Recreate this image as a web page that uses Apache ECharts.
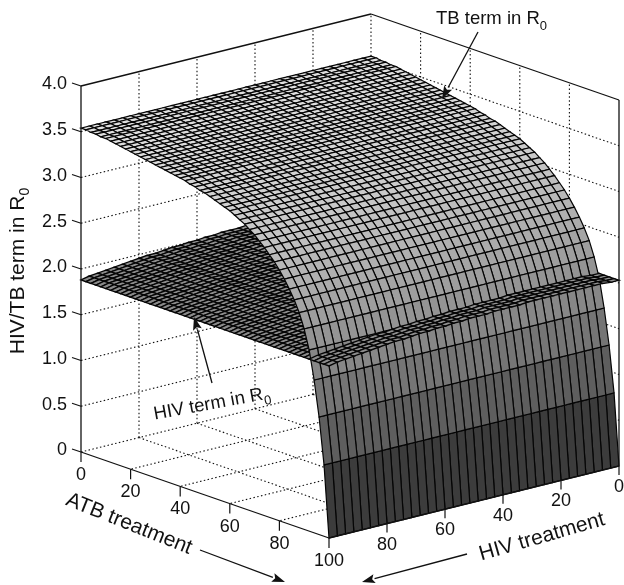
<!DOCTYPE html>
<html>
<head>
<meta charset="utf-8">
<style>html,body{margin:0;padding:0;background:#fff}#c{width:624px;height:585px}</style>
<script src="https://cdn.jsdelivr.net/npm/echarts@6/dist/echarts.min.js"></script>
</head>
<body>
<div id="c"></div>
<script>
// ATB treatment levels (%), one per TB-term value
const atbLevels = [0,2,4,6,8,10,12,14,16,18,20,22,24,26,28,30,32,34,36,38,40,42,44,46,48,50,52,54,56,58,60,62,64,66,68,70,72,74,76,78,80,82,84,86,88,90,92,94,96,98,100];
// TB term in R0, read along the ATB axis
const tbTerm = [3.54,3.54,3.53,3.53,3.52,3.52,3.51,3.50,3.49,3.48,3.47,3.46,3.45,3.44,3.43,3.42,3.41,3.40,3.39,3.38,3.37,3.36,3.34,3.33,3.31,3.30,3.28,3.26,3.24,3.22,3.20,3.17,3.14,3.11,3.07,3.03,2.98,2.93,2.87,2.81,2.74,2.66,2.57,2.47,2.35,2.19,1.98,1.67,1.285,0.78,0];
// HIV treatment levels (%), one per HIV-term value
const hivLevels = [0,2.86,5.71,8.57,11.43,14.29,17.14,20,22.86,25.71,28.57,31.43,34.29,37.14,40,42.86,45.71,48.57,51.43,54.29,57.14,60,62.86,65.71,68.57,71.43,74.29,77.14,80,82.86,85.71,88.57,91.43,94.29,97.14,100];
// HIV term in R0, read along the HIV axis
const hivTerm = [2.03,2.03,2.04,2.04,2.04,2.04,2.04,2.04,2.04,2.04,2.04,2.04,2.03,2.03,2.03,2.03,2.02,2.02,2.02,2.01,2.01,2.00,2.00,1.99,1.99,1.98,1.97,1.97,1.96,1.95,1.94,1.93,1.92,1.91,1.90,1.88];
// Tick labels
const treatmentTicks = [0,20,40,60,80,100];
const termTicks = [0,0.5,1,1.5,2,2.5,3,3.5,4];
const termTickLabels = ['0','0.5','1.0','1.5','2.0','2.5','3.0','3.5','4.0'];

// Oblique projection of the 3D box onto the hidden plane axes
function project(a, h, z) {
  return [371 + 2.48 * a - 2.9 * h, 380 + 0.86 * a + 0.72 * h - 91.5 * z];
}
function depth(a, h, z) { return 0.029 * a / 100 + 0.0248 * h / 100 + 0.0117 * z / 4; }
const FONT = '"Liberation Sans", Arial, Helvetica, sans-serif';
const INK = '#111';

// Surface cells: [atb index, hiv index, surface id], painter-sorted back to front
const cells = [];
function heightOf(surface, i, j) { return surface === 0 ? tbTerm[i] : hivTerm[j]; }
for (let s = 0; s < 2; s++) {
  for (let i = 0; i < atbLevels.length - 1; i++) {
    for (let j = 0; j < hivLevels.length - 1; j++) {
      const zAvg = (heightOf(s, i, j) + heightOf(s, i + 1, j) + heightOf(s, i, j + 1) + heightOf(s, i + 1, j + 1)) / 4;
      cells.push({ value: [i, j, s], d: depth((atbLevels[i] + atbLevels[i + 1]) / 2, (hivLevels[j] + hivLevels[j + 1]) / 2, zAvg) });
    }
  }
}
cells.sort((p, q) => p.d - q.d);

function renderCell(params, api) {
  const i = api.value(0), j = api.value(1), s = api.value(2);
  const corner = (ii, jj) => {
    return api.coord(project(atbLevels[ii], hivLevels[jj], heightOf(s, ii, jj)));
  };
  const z = (heightOf(s, i, j) + heightOf(s, i + 1, j) + heightOf(s, i, j + 1) + heightOf(s, i + 1, j + 1)) / 4;
  const g = Math.round(40 + 52 * z);
  return {
    type: 'polygon',
    shape: { points: [corner(i, j), corner(i + 1, j), corner(i + 1, j + 1), corner(i, j + 1)] },
    style: { fill: 'rgb(' + g + ',' + g + ',' + g + ')', stroke: '#050505', lineWidth: s === 1 ? 1.35 : 1.2 }
  };
}

// Frame pieces: [a1,h1,z1,a2,h2,z2]
const dotted = [];
termTicks.slice(1, -1).forEach(z => {
  dotted.push([0, 100, z, 0, 0, z], [0, 0, z, 100, 0, z]);
});
treatmentTicks.slice(1, -1).forEach(t => {
  dotted.push([0, t, 0, 0, t, 4], [t, 0, 0, t, 0, 4]);
  dotted.push([t, 0, 0, t, 100, 0], [0, t, 0, 100, t, 0]);
});
dotted.push([0, 100, 0, 0, 0, 0], [0, 0, 0, 100, 0, 0], [0, 0, 0, 0, 0, 4]);

const solid = [
  [0, 100, 4, 0, 0, 4], [0, 0, 4, 100, 0, 4],
  [0, 100, 0, 0, 100, 4], [100, 0, 0, 100, 0, 4],
  [0, 100, 0, 100, 100, 0], [100, 100, 0, 100, 0, 0]
];

function renderSegment(dash) {
  return function (params, api) {
    const p = api.coord(project(api.value(0), api.value(1), api.value(2)));
    const q = api.coord(project(api.value(3), api.value(4), api.value(5)));
    return {
      type: 'line',
      shape: { x1: p[0], y1: p[1], x2: q[0], y2: q[1] },
      style: { stroke: INK, lineWidth: dash ? 1.1 : 1.3, lineDash: dash ? [1.5, 2.4] : null, fill: null }
    };
  };
}

// Ticks and annotation text, on the plane axes
function txt(x, y, text, size, opt) {
  return Object.assign({ type: 'text', x, y, rotation: 0,
    style: { text, fontSize: size, fontFamily: FONT, fill: INK, align: 'center', verticalAlign: 'middle' } }, opt || {});
}
function rLabel(x, y, pre, size, rotation, align) {
  return {
    type: 'text', x, y, rotation,
    style: {
      text: '{a|' + pre + '}{s|0}', fontFamily: FONT, fill: INK, align: align || 'center', verticalAlign: 'middle',
      rich: {
        a: { fontSize: size, fontFamily: FONT, fill: INK, height: 26, lineHeight: 26, verticalAlign: 'middle' },
        s: { fontSize: Math.round(size * 0.68), fontFamily: FONT, fill: INK, height: 12, lineHeight: 12, verticalAlign: 'bottom' }
      }
    }
  };
}
function arrow(x1, y1, x2, y2, len, wid) {
  const ang = Math.atan2(y2 - y1, x2 - x1), cs = Math.cos(ang), sn = Math.sin(ang);
  const bx = x2 - cs * len, by = y2 - sn * len;
  return [
    { type: 'line', shape: { x1, y1, x2: bx, y2: by }, style: { stroke: INK, lineWidth: 1.3 } },
    { type: 'polygon', shape: { points: [[x2, y2], [bx - sn * wid, by + cs * wid], [bx + cs * 2.5, by + sn * 2.5], [bx + sn * wid, by - cs * wid]] }, style: { fill: INK } }
  ];
}
function renderOverlay(params, api) {
  const kids = [];
  const at = (a, h, z) => api.coord(project(a, h, z));
  const seg = (p, q) => ({ type: 'line', shape: { x1: p[0], y1: p[1], x2: q[0], y2: q[1] }, style: { stroke: INK, lineWidth: 1.2 } });
  termTicks.forEach((t, k) => {
    const p = at(0, 100, t);
    kids.push(seg([p[0] - 9, p[1] - 3], p));
    kids.push(txt(p[0] - 14, p[1] - 1.5, termTickLabels[k], 18, { style: { text: termTickLabels[k], fontSize: 18, fontFamily: FONT, fill: INK, align: 'right', verticalAlign: 'middle' } }));
  });
  treatmentTicks.forEach(t => {
    const p = at(t, 100, 0);
    kids.push(seg(p, [p[0], p[1] + 10]));
    kids.push(txt(p[0], p[1] + 23, String(t), 18));
    if (t < 100) {
      const q = at(100, t, 0);
      kids.push(seg(q, [q[0], q[1] + 9]));
      kids.push(txt(q[0], q[1] + 21, String(t), 18));
    }
  });
  kids.push(rLabel(18, 271, 'HIV/TB term in R', 21, Math.PI / 2));
  kids.push(txt(129, 524, 'ATB treatment', 21, { rotation: -0.38 }));
  kids.push(txt(542, 537, 'HIV treatment', 21, { rotation: 0.28 }));
  kids.push(rLabel(436, 19, 'TB term in R', 18.5, 0, 'left'));
  kids.push(rLabel(212, 404, 'HIV term in R', 18.5, 0.18));
  kids.push(...arrow(200, 550, 285, 582, 13, 4.5));
  kids.push(...arrow(467, 554, 362, 582, 13, 4.5));
  kids.push(...arrow(478, 32, 442, 99, 13, 4.5));
  kids.push(...arrow(212, 383, 194, 317, 13, 4.5));
  return { type: 'group', children: kids };
}

const chart = echarts.init(document.getElementById('c'), null, { renderer: 'canvas' });
chart.setOption({
  animation: false,
  backgroundColor: '#fff',
  grid: { left: 0, right: 0, top: 0, bottom: 0 },
  xAxis: { type: 'value', min: 0, max: 624, show: false },
  yAxis: { type: 'value', min: 0, max: 585, inverse: true, show: false },
  series: [
    { type: 'custom', name: 'Dotted grid', coordinateSystem: 'cartesian2d', silent: true, z: 1, clip: false,
      encode: { x: 0, y: 1 }, renderItem: renderSegment(true), data: dotted },
    { type: 'custom', name: 'Surfaces', coordinateSystem: 'cartesian2d', silent: true, z: 2, clip: false, progressive: 0,
      encode: { x: 0, y: 1 }, renderItem: renderCell, data: cells },
    { type: 'custom', name: 'Box', coordinateSystem: 'cartesian2d', silent: true, z: 3, clip: false,
      encode: { x: 0, y: 1 }, renderItem: renderSegment(false), data: solid },
    { type: 'custom', name: 'Labels', coordinateSystem: 'cartesian2d', silent: true, z: 4, clip: false,
      encode: { x: 0, y: 1 }, renderItem: renderOverlay, data: [[0, 0]] }
  ]
});
</script>
</body>
</html>
